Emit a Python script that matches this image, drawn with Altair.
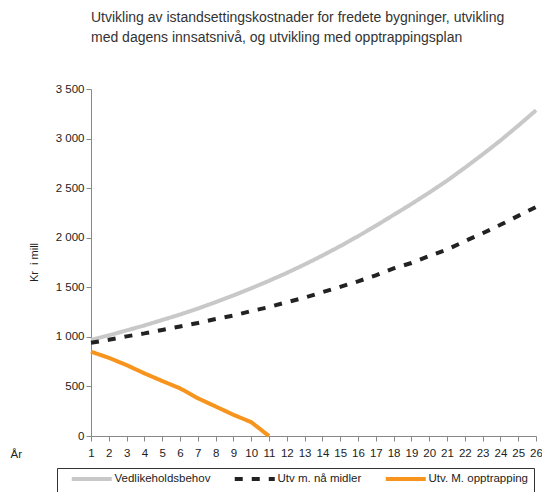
import altair as alt
import pandas as pd

# values (mill. kr per year)
years = list(range(1, 27))
vedlikehold = [970, 1015, 1065, 1115, 1170, 1225, 1285, 1350, 1418, 1490,
               1565, 1645, 1730, 1820, 1915, 2015, 2120, 2230, 2340, 2455,
               2575, 2705, 2840, 2980, 3130, 3285]
naa_midler = [940, 970, 1005, 1035, 1070, 1105, 1140, 1180, 1215, 1260,
              1300, 1350, 1395, 1450, 1505, 1560, 1620, 1690, 1745, 1815,
              1880, 1965, 2045, 2130, 2220, 2310]
opptrapping = [850, 789, 715, 632, 555, 481, 381, 298, 214, 140, 0]

series = ['Vedlikeholdsbehov', 'Utv m. nå midler', 'Utv. M. opptrapping']
colors = ['#c8c8c8', '#222222', '#f7941d']
dashes = [[1, 0], [8, 9], [1, 0]]

rows = []
for name, vals in zip(series, [vedlikehold, naa_midler, opptrapping]):
    for yr, v in zip(years, vals):
        rows.append({'aar': yr, 'verdi': v, 'serie': name})
df = pd.DataFrame(rows)

font = 'Liberation Sans'

# wide line symbol: path scaled by sqrt(size)/2 -> 40px long, small layout box
legend = alt.Legend(
    title=None, orient='none', legendX=-34, legendY=379,
    direction='horizontal', symbolType='M-10,0H10', symbolSize=16,
    symbolStrokeWidth=4, labelFontSize=11.5, labelColor='#222', labelFont=font,
    strokeColor='#333', fillColor='white', padding=5, columnPadding=14,
    symbolOffset=24, labelOffset=17, labelLimit=200
)

base = alt.Chart(df).encode(
    x=alt.X('aar:Q', scale=alt.Scale(domain=[1, 26], nice=False),
            axis=alt.Axis(values=years, title='År', titleX=-81, titleY=18,
                          titleAlign='left', titleBaseline='middle',
                          titleFontWeight='normal', titleFontSize=11.5,
                          labelPadding=6, labelOverlap=False, labelFlush=False,
                          grid=False)),
    y=alt.Y('verdi:Q', scale=alt.Scale(domain=[0, 3500], nice=False),
            axis=alt.Axis(values=[0, 500, 1000, 1500, 2000, 2500, 3000, 3500],
                          labelExpr="replace(format(datum.value, ','), ',', ' ')",
                          title='Kr\u00a0 i mill', titleX=-52, titleY=173,
                          titleAngle=-90, titleFontWeight='normal',
                          titleFontSize=11, labelOverlap=False, labelFlush=False,
                          grid=False)),
    color=alt.Color('serie:N', sort=series,
                    scale=alt.Scale(domain=series, range=colors), legend=legend),
    strokeDash=alt.StrokeDash('serie:N', sort=series,
                              scale=alt.Scale(domain=series, range=dashes),
                              legend=legend),
    order=alt.Order('aar:Q'),
)

chart = base.mark_line(strokeWidth=4).properties(
    width=445, height=347,
    autosize=alt.AutoSizeParams(type='none'),
    padding={'left': 83, 'top': 81, 'right': 6, 'bottom': 56},
    title=alt.Title(
        ['Utvikling av istandsettingskostnader for fredete bygninger, utvikling',
         'med dagens innsatsnivå, og utvikling med opptrappingsplan'],
        anchor='start', frame='group', offset=38, fontSize=14,
        fontWeight='normal', color='#333', font=font, lineHeight=20)
).configure_axis(
    domainColor='#888', tickColor='#888', labelColor='#222', titleColor='#222',
    labelFont=font, titleFont=font, labelFontSize=11.5, tickSize=5
).configure_view(stroke=None)

chart.save("out.html", embed_options={"renderer": "svg", "actions": False})
